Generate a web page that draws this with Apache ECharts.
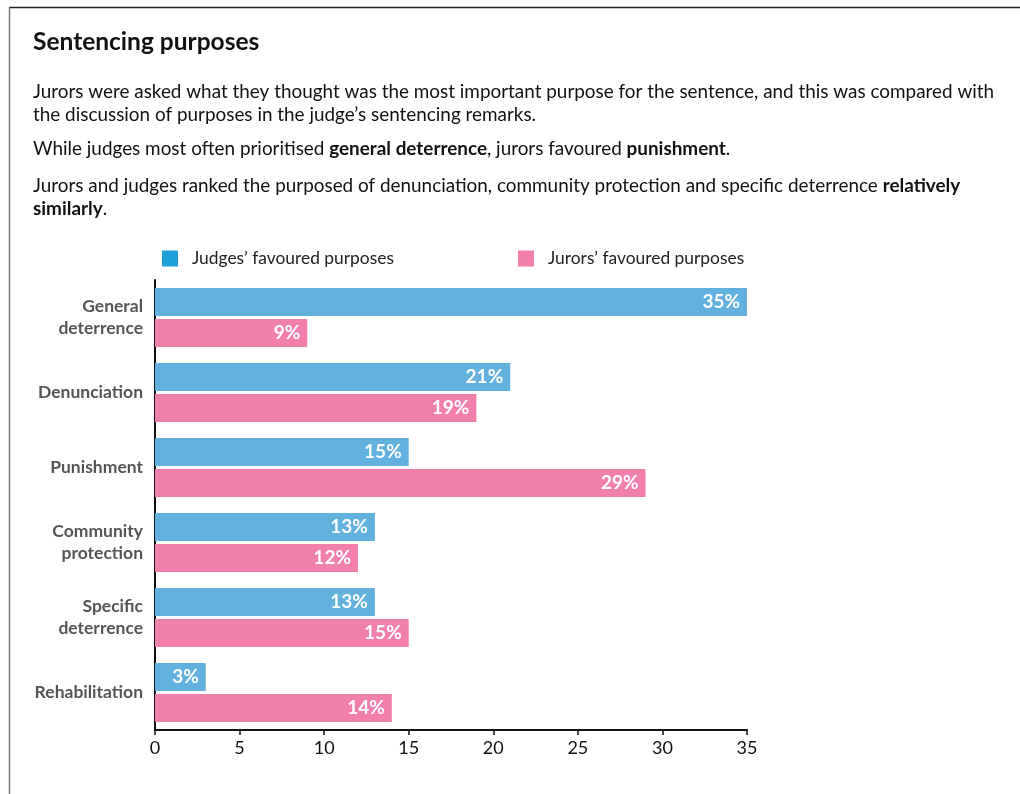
<!DOCTYPE html>
<html><head><meta charset="utf-8">
<script src="https://cdn.jsdelivr.net/npm/echarts@6/dist/echarts.min.js"></script>
<style>html,body{margin:0;padding:0;background:#fff}#c{width:1020px;height:794px}</style>
</head><body><div id="c"></div>
<script>
const categories = ['General\ndeterrence','Denunciation','Punishment','Community\nprotection','Specific\ndeterrence','Rehabilitation'];
const judges = [35, 21, 15, 13, 13, 3];
const jurors = [9, 19, 29, 12, 15, 14];
const seriesNames = ['Judges\u2019 favoured purposes', 'Jurors\u2019 favoured purposes'];
const xTicks = [0, 5, 10, 15, 20, 25, 30, 35];

const FONT = 'Lato';
const chart = echarts.init(document.getElementById('c'));
const bodyStyle = {fontFamily: FONT, fontSize: 18.9, fill: '#111'};
const boldRich = {b: {fontFamily: FONT, fontSize: 18.9, fontWeight: 'bold', fill: '#111'}};
chart.setOption({
  animation: false,
  backgroundColor: '#fff',
  graphic: [
    {type: 'line', shape: {x1: 9, y1: 7.5, x2: 1020, y2: 7.5}, style: {stroke: '#222', lineWidth: 1.5}},
    {type: 'line', shape: {x1: 9.5, y1: 7, x2: 9.5, y2: 794}, style: {stroke: '#777', lineWidth: 1.5}},
    {type: 'text', left: 33, top: 30, style: {text: 'Sentencing purposes', fontFamily: FONT, fontSize: 24.5, fontWeight: 'bold', fill: '#111'}},
    {type: 'text', left: 33, top: 80, style: Object.assign({text: 'Jurors were asked what they thought was the most important purpose for the sentence, and this was compared with\nthe discussion of purposes in the judge\u2019s sentencing remarks.', lineHeight: 23}, bodyStyle)},
    {type: 'text', left: 33, top: 139, style: Object.assign({text: 'While judges most often prioritised {b|general deterrence}, jurors favoured {b|punishment}.', rich: boldRich}, bodyStyle)},
    {type: 'text', left: 33, top: 174, style: Object.assign({text: 'Jurors and judges ranked the purposed of denunciation, community protection and specific deterrence {b|relatively}\n{b|similarly}.', lineHeight: 23, rich: boldRich}, bodyStyle)}
  ],
  legend: {
    top: 245, left: 157, itemWidth: 16, itemHeight: 16, itemGap: 124,
    icon: 'rect',
    textStyle: {fontFamily: FONT, fontSize: 17.4, color: '#222', padding: [0, 0, 0, 9]},
    data: [
      {name: seriesNames[0], itemStyle: {color: '#1fa0d8'}},
      {name: seriesNames[1], itemStyle: {color: '#f07fab'}}
    ]
  },
  grid: {left: 155, top: 280, width: 592, height: 450, containLabel: false},
  xAxis: {
    type: 'value', min: xTicks[0], max: xTicks[xTicks.length - 1], interval: 5,
    axisLine: {show: true, lineStyle: {color: '#111', width: 2}},
    axisTick: {show: true, length: 5, lineStyle: {color: '#111', width: 1.5}},
    splitLine: {show: false},
    axisLabel: {fontFamily: FONT, fontSize: 18, color: '#111', margin: 9}
  },
  yAxis: {
    type: 'category', data: categories, inverse: true,
    axisLine: {show: true, lineStyle: {color: '#111', width: 2}},
    axisTick: {show: false},
    axisLabel: {fontFamily: FONT, fontSize: 17.5, fontWeight: 'bold', color: '#555', align: 'right', margin: 12, lineHeight: 22}
  },
  series: [
    {name: seriesNames[0], type: 'bar', data: judges, barWidth: 28, barGap: '10%', barCategoryGap: '21%',
     itemStyle: {color: '#62b0de'},
     label: {show: true, position: 'insideRight', formatter: '{c}%', color: '#fff', fontFamily: FONT, fontSize: 19, fontWeight: 'bold', distance: 7}},
    {name: seriesNames[1], type: 'bar', data: jurors, barWidth: 28,
     itemStyle: {color: '#f17fab'},
     label: {show: true, position: 'insideRight', formatter: '{c}%', color: '#fff', fontFamily: FONT, fontSize: 19, fontWeight: 'bold', distance: 7}}
  ]
});
</script></body></html>
